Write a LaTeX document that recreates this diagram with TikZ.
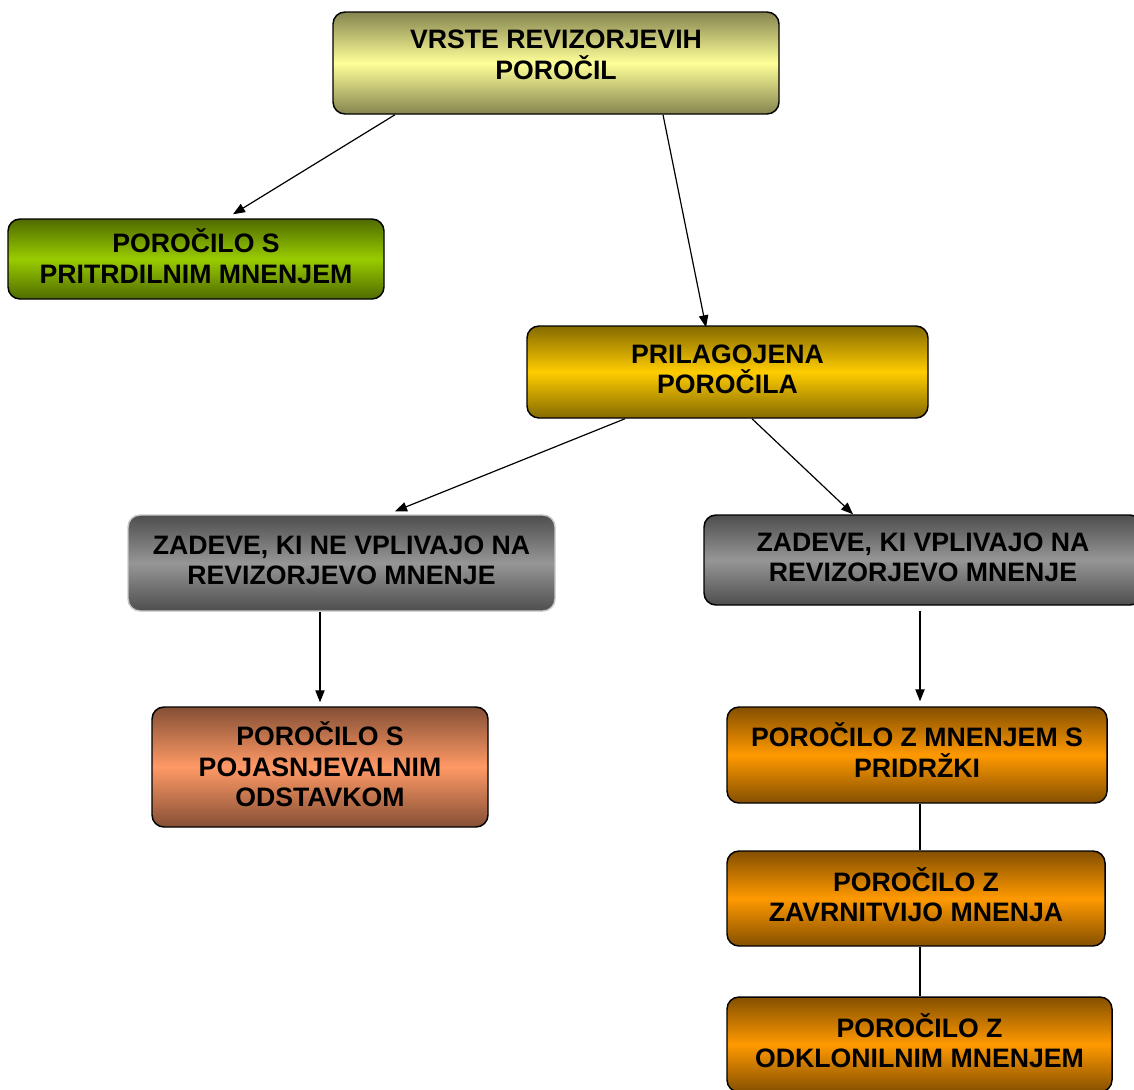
\documentclass[tikz,border=0pt]{standalone}
\usepackage{fontspec}
\setmainfont{Liberation Sans}
\usetikzlibrary{arrows.meta,calc}

\definecolor{cYellow}{RGB}{255,255,153}
\definecolor{cGreen}{RGB}{153,204,0}
\definecolor{cGold}{RGB}{255,204,0}
\definecolor{cGray}{RGB}{150,150,150}
\definecolor{cSalmon}{RGB}{255,153,102}
\definecolor{cOrange}{RGB}{255,153,0}
\definecolor{cLightEdge}{RGB}{200,200,200}

\tikzset{
  repbox/.style={draw=black, line width=1.1pt, rounded corners=9pt, align=center, inner sep=0pt,
    font=\fontsize{20}{23}\selectfont\bfseries, text depth=4pt,
    top color=#1!52!black, bottom color=#1!52!black, middle color=#1},
  boxsize/.style 2 args={minimum width=#1*0.75pt, minimum height=#2*0.75pt},
  conn/.style={line width=0.9pt},
  arr/.style={conn, -{Triangle[length=9pt,width=7pt]}},
}

\begin{document}
\begin{tikzpicture}[x=0.75pt,y=0.75pt,yscale=-1,xscale=1]
\useasboundingbox (0,0) rectangle (1134,1089);

%Rounded Rect (top)
\node [repbox=cYellow, boxsize={446}{102}, text depth=12pt] (vrste) at (556,63) {VRSTE REVIZORJEVIH\\POROČIL};
%Rounded Rect (left branch)
\node [repbox=cGreen, boxsize={376}{80}] (pritrd) at (196,259) {POROČILO S\\PRITRDILNIM MNENJEM};
%Rounded Rect (right branch)
\node [repbox=cGold, boxsize={401}{92}] (prilag) at (727.5,372) {PRILAGOJENA\\POROČILA};

%Rounded Rect (matters)
\node [repbox=cGray, draw=cLightEdge, boxsize={427}{96}] (zadne) at (341.5,563) {ZADEVE, KI NE VPLIVAJO NA\\REVIZORJEVO MNENJE};
\node [repbox=cGray, boxsize={438}{90}] (zadda) at (923,560) {ZADEVE, KI VPLIVAJO NA\\REVIZORJEVO MNENJE};

%Rounded Rect (reports)
\node [repbox=cSalmon, boxsize={336}{120}] (pojas) at (320,767) {POROČILO S\\POJASNJEVALNIM\\ODSTAVKOM};
\node [repbox=cOrange, boxsize={380}{96}, text depth=7pt] (pridr) at (917,755) {POROČILO Z MNENJEM S\\PRIDRŽKI};
\node [repbox=cOrange, boxsize={378}{95}, text depth=6pt] (zavrn) at (916,898.5) {POROČILO Z\\ZAVRNITVIJO MNENJA};
\node [repbox=cOrange, boxsize={385}{95}, text depth=6pt] (odkl) at (919.5,1044.5) {POROČILO Z\\ODKLONILNIM MNENJEM};

%Straight Lines
\draw [arr] ($(vrste.south)+(-161,0)$) -- ($(pritrd.north)+(37,-4)$);
\draw [arr] ($(vrste.south)+(107,0)$) -- ($(prilag.north)+(-21.5,2)$);
\draw [arr] ($(prilag.south)+(-102.5,0)$) -- ($(zadne.north)+(53.5,-3)$);
\draw [arr] ($(prilag.south)+(24.5,0)$) -- ($(zadda.north)+(-70,0)$);
\draw [arr] ($(zadne.south)+(-21.5,0)$) -- ($(pojas.north)+(0,-4)$);
\draw [arr] ($(zadda.south)+(-3,5)$) -- ($(pridr.north)+(3,-5)$);
\draw [conn] ($(pridr.south)+(3,0)$) -- ($(zavrn.north)+(4,0)$);
\draw [conn] ($(zavrn.south)+(4,0)$) -- ($(odkl.north)+(0.5,0)$);

\end{tikzpicture}
\end{document}
